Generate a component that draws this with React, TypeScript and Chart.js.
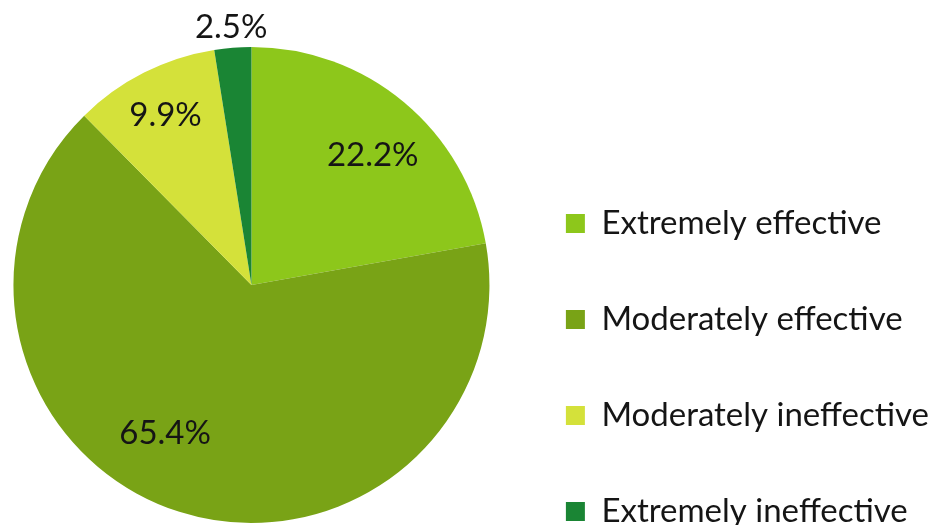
import { useEffect, useRef } from 'react';
import { Chart, registerables } from 'chart.js';

Chart.register(...registerables);

// Survey answers and their shares (percent)
const categories = [
  'Extremely effective',
  'Moderately effective',
  'Moderately ineffective',
  'Extremely ineffective',
];
const shares = [22.2, 65.4, 9.9, 2.5];
const sliceColors = ['#8DC71B', '#79A316', '#D4E13A', '#1A8534'];

// Where each percentage label sits: fraction of the way through the slice's
// sweep, and distance from the centre as a fraction of the radius.
const labelPlacement = [
  { along: 0.54, out: 0.745 },
  { along: 0.553, out: 0.723 },
  { along: 0.5, out: 0.8 },
  { along: 0.5, out: 1.087 },
];

const FONT_FAMILY = 'Lato, "Open Sans", sans-serif';
const TEXT_SIZE = 33;
const TEXT_COLOR = '#151515';

const sliceLabels = {
  id: 'sliceLabels',
  afterDatasetsDraw(chart: any) {
    const { ctx } = chart;
    const meta = chart.getDatasetMeta(0);
    ctx.save();
    ctx.font = `${TEXT_SIZE}px ${FONT_FAMILY}`;
    ctx.fillStyle = TEXT_COLOR;
    ctx.textAlign = 'center';
    ctx.textBaseline = 'middle';
    meta.data.forEach((arc: any, i: number) => {
      const { x, y, startAngle, endAngle, outerRadius } = arc.getProps(
        ['x', 'y', 'startAngle', 'endAngle', 'outerRadius'],
        true
      );
      const place = labelPlacement[i];
      const a = startAngle + (endAngle - startAngle) * place.along;
      const r = outerRadius * place.out;
      ctx.fillText(`${shares[i].toFixed(1)}%`, x + Math.cos(a) * r, y + Math.sin(a) * r);
    });
    ctx.restore();
  },
};

export default function App() {
  const canvasRef = useRef<HTMLCanvasElement | null>(null);

  useEffect(() => {
    if (!canvasRef.current) return;
    const chart = new Chart(canvasRef.current, {
      type: 'pie',
      data: {
        labels: categories,
        datasets: [
          {
            data: shares,
            backgroundColor: sliceColors,
            borderWidth: 0,
          },
        ],
      },
      options: {
        animation: false,
        responsive: true,
        maintainAspectRatio: false,
        radius: 238,
        layout: { padding: { left: 0, right: 0, top: 0, bottom: 0 } },
        plugins: {
          tooltip: { enabled: false },
          legend: {
            position: 'right',
            align: 'end',
            labels: {
              font: { family: FONT_FAMILY, size: TEXT_SIZE },
              color: TEXT_COLOR,
              boxWidth: 19,
              boxHeight: 19,
              padding: 63,
            },
          },
        },
      } as any,
      plugins: [sliceLabels],
    });
    return () => chart.destroy();
  }, []);

  return (
    <div
      style={{
        position: 'fixed',
        left: 0,
        top: 0,
        width: 939,
        height: 525,
        overflow: 'hidden',
        background: '#ffffff',
      }}
    >
      <div style={{ position: 'absolute', left: 0, top: -21, width: 939, height: 612 }}>
        <canvas ref={canvasRef} />
      </div>
    </div>
  );
}
